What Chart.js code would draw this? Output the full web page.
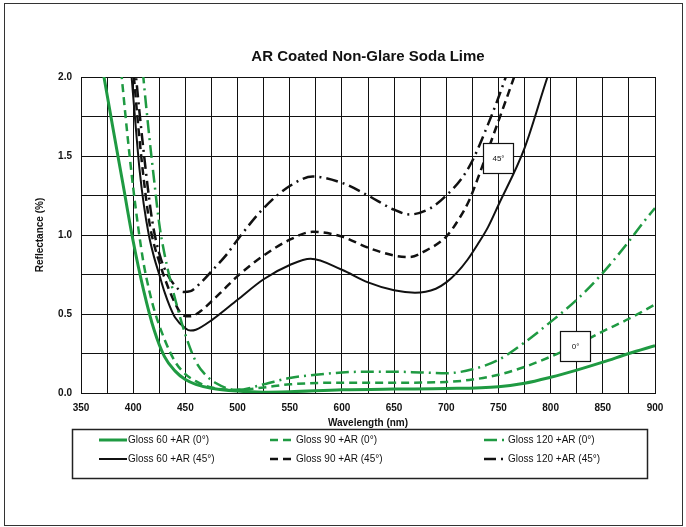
<!DOCTYPE html>
<html>
<head>
<meta charset="utf-8">
<script src="https://cdn.jsdelivr.net/npm/chart.js@4.4.1/dist/chart.umd.min.js"></script>
<style>
  html, body { margin: 0; padding: 0; background: #fff; }
  #wrap { position: relative; width: 686px; height: 527px; }
</style>
</head>
<body>
<div id="wrap"><canvas id="chart" width="686" height="527"></canvas></div>
<script>
const chartTitle = 'AR Coated Non-Glare Soda Lime';
const xTitle = 'Wavelength (nm)';
const yTitle = 'Reflectance (%)';

// Gloss 60 +AR (0°)
const g60_0_nm = [368, 372, 380, 390, 400, 410, 420, 430, 440, 450, 460, 475, 500, 525, 550, 600, 650, 700, 750, 775, 800, 825, 850, 875, 900];
const g60_0_r  = [2.15, 2.0, 1.7, 1.33, 0.96, 0.65, 0.4, 0.23, 0.14, 0.085, 0.055, 0.03, 0.012, 0.005, 0.008, 0.02, 0.025, 0.028, 0.04, 0.062, 0.1, 0.145, 0.195, 0.25, 0.3];
// Gloss 90 +AR (0°)
const g90_0_nm = [386, 389, 395, 400, 405, 410, 415, 420, 430, 440, 450, 460, 475, 500, 525, 550, 600, 650, 700, 725, 750, 775, 800, 825, 850, 875, 900];
const g90_0_r  = [2.2, 2.0, 1.6, 1.3, 1.04, 0.82, 0.66, 0.53, 0.34, 0.2, 0.12, 0.075, 0.035, 0.02, 0.035, 0.055, 0.065, 0.065, 0.07, 0.085, 0.115, 0.165, 0.23, 0.305, 0.39, 0.47, 0.56];
// Gloss 120 +AR (0°)
const g120_0_nm = [407, 410, 415, 420, 425, 430, 440, 450, 460, 470, 480, 490, 500, 525, 550, 575, 600, 625, 650, 675, 700, 725, 750, 775, 800, 825, 850, 875, 890, 900];
const g120_0_r  = [2.2, 1.98, 1.65, 1.35, 1.07, 0.88, 0.6, 0.37, 0.2, 0.11, 0.06, 0.03, 0.02, 0.055, 0.095, 0.115, 0.13, 0.135, 0.135, 0.13, 0.125, 0.15, 0.21, 0.32, 0.45, 0.59, 0.76, 0.96, 1.09, 1.17];
// Gloss 60 +AR (45°)
const g60_45_nm = [396, 398.5, 402, 406, 410, 415, 420, 425, 430, 435, 440, 450, 455, 460, 475, 500, 525, 550, 570, 600, 625, 650, 670, 690, 700, 710, 720, 730, 740, 750, 775, 797, 805];
const g60_45_r  = [2.2, 2.0, 1.72, 1.42, 1.2, 1.0, 0.86, 0.75, 0.64, 0.55, 0.48, 0.41, 0.395, 0.4, 0.46, 0.59, 0.72, 0.81, 0.85, 0.78, 0.7, 0.65, 0.635, 0.66, 0.7, 0.76, 0.84, 0.94, 1.05, 1.19, 1.55, 2.0, 2.15];
// Gloss 90 +AR (45°)
const g90_45_nm = [397, 400, 404, 408, 412, 416, 420, 425, 430, 440, 448, 455, 465, 475, 483, 500, 525, 550, 572, 600, 625, 650, 665, 680, 700, 712, 722, 732, 745, 757, 765, 770];
const g90_45_r  = [2.25, 2.05, 1.75, 1.48, 1.25, 1.06, 0.94, 0.83, 0.73, 0.57, 0.49, 0.485, 0.52, 0.58, 0.63, 0.74, 0.87, 0.97, 1.02, 0.99, 0.92, 0.87, 0.86, 0.9, 0.99, 1.1, 1.22, 1.39, 1.63, 1.85, 2.0, 2.1];
// Gloss 120 +AR (45°)
const g120_45_nm = [399, 402, 406, 410, 414, 418, 422, 427, 432, 440, 448, 455, 465, 475, 490, 500, 525, 550, 572, 600, 625, 650, 665, 685, 700, 715, 725, 740, 750, 757, 762];
const g120_45_r  = [2.25, 2.05, 1.78, 1.53, 1.3, 1.1, 0.96, 0.84, 0.76, 0.68, 0.64, 0.645, 0.7, 0.77, 0.88, 0.97, 1.17, 1.31, 1.37, 1.33, 1.25, 1.16, 1.13, 1.17, 1.25, 1.36, 1.47, 1.7, 1.87, 2.0, 2.1];

const seriesNames = ['Gloss 60 +AR (0°)', 'Gloss 90 +AR (0°)', 'Gloss 120 +AR (0°)',
                     'Gloss 60 +AR (45°)', 'Gloss 90 +AR (45°)', 'Gloss 120 +AR (45°)'];

const GREEN = '#1f9a42';
const BLACK = '#111111';
const FONT = '"Liberation Sans", Arial, sans-serif';

function pts(nm, r) { return nm.map((v, i) => ({ x: v, y: r[i] })); }

const styles = [
  { color: GREEN, width: 3,   dash: [] },
  { color: GREEN, width: 2.5, dash: [8, 5] },
  { color: GREEN, width: 2.5, dash: [13, 5, 2, 5] },
  { color: BLACK, width: 2,   dash: [] },
  { color: BLACK, width: 2.5, dash: [8, 5] },
  { color: BLACK, width: 2.5, dash: [12, 5, 2, 5] }
];
const seriesData = [
  pts(g60_0_nm, g60_0_r), pts(g90_0_nm, g90_0_r), pts(g120_0_nm, g120_0_r),
  pts(g60_45_nm, g60_45_r), pts(g90_45_nm, g90_45_r), pts(g120_45_nm, g120_45_r)
];

const datasets = seriesData.map((d, i) => ({
  label: seriesNames[i],
  data: d,
  borderColor: styles[i].color,
  borderWidth: styles[i].width,
  borderDash: styles[i].dash,
  pointRadius: 0,
  fill: false,
  cubicInterpolationMode: 'monotone'
}));

// angle labels inside the plot (data coordinates)
const angleNotes = [
  { text: '45°', nm: [735, 764], r: [1.58, 1.39] },
  { text: '0°',  nm: [809, 838], r: [0.39, 0.2] }
];

const extras = {
  id: 'extras',
  afterDraw(chart) {
    const ctx = chart.ctx;
    const a = chart.chartArea;
    const xs = chart.scales.x, ys = chart.scales.y;
    ctx.save();

    // outer frame
    ctx.strokeStyle = '#333';
    ctx.lineWidth = 1;
    ctx.setLineDash([]);
    ctx.strokeRect(4.5, 3.5, 678, 522);

    // title, centred over the plot
    ctx.fillStyle = '#111';
    ctx.font = 'bold 15px ' + FONT;
    ctx.textAlign = 'center';
    ctx.textBaseline = 'middle';
    ctx.fillText(chartTitle, (a.left + a.right) / 2, 57);

    // angle boxes
    angleNotes.forEach(n => {
      const x1 = Math.round(xs.getPixelForValue(n.nm[0])) + 0.5;
      const x2 = Math.round(xs.getPixelForValue(n.nm[1])) + 0.5;
      const y1 = Math.round(ys.getPixelForValue(n.r[0])) + 0.5;
      const y2 = Math.round(ys.getPixelForValue(n.r[1])) + 0.5;
      ctx.fillStyle = '#fff';
      ctx.fillRect(x1, y1, x2 - x1, y2 - y1);
      ctx.strokeStyle = '#111';
      ctx.lineWidth = 1.2;
      ctx.strokeRect(x1, y1, x2 - x1, y2 - y1);
      ctx.fillStyle = '#111';
      ctx.font = '8px ' + FONT;
      ctx.fillText(n.text, (x1 + x2) / 2, (y1 + y2) / 2);
    });

    // legend box
    ctx.strokeStyle = '#222';
    ctx.lineWidth = 1.5;
    ctx.strokeRect(72.5, 429.5, 575, 49);
    const colSwatch = [99, 270, 484];
    const colLen = [28, 22, 21];
    const colText = [128, 296, 508];
    const rowY = [440, 459];
    ctx.font = '10px ' + FONT;
    ctx.textAlign = 'left';
    for (let i = 0; i < 6; i++) {
      const c = i % 3, r = Math.floor(i / 3);
      const s = styles[i];
      ctx.strokeStyle = s.color;
      ctx.lineWidth = s.width;
      ctx.setLineDash(s.dash);
      ctx.beginPath();
      ctx.moveTo(colSwatch[c], rowY[r]);
      ctx.lineTo(colSwatch[c] + colLen[c], rowY[r]);
      ctx.stroke();
      ctx.setLineDash([]);
      ctx.fillStyle = '#111';
      ctx.fillText(seriesNames[i], colText[c], rowY[r]);
    }
    ctx.restore();
  }
};

new Chart(document.getElementById('chart'), {
  type: 'line',
  data: { datasets: datasets },
  plugins: [extras],
  options: {
    responsive: false,
    animation: false,
    devicePixelRatio: 1,
    layout: { padding: { left: 20, top: 77, right: 31, bottom: 98 } },
    plugins: { legend: { display: false }, title: { display: false }, tooltip: { enabled: false } },
    scales: {
      x: {
        type: 'linear',
        min: 350, max: 900,
        afterFit: s => { s.height = 36; },
        grid: { color: '#111', lineWidth: 1, drawTicks: false },
        border: { color: '#111', width: 1 },
        ticks: {
          stepSize: 25, autoSkip: false, maxRotation: 0, padding: 9,
          color: '#111', font: { family: FONT, size: 10, weight: 'bold' },
          callback: v => (v % 50 === 0 ? String(v) : '')
        },
        title: { display: true, text: xTitle, color: '#111', padding: 0,
                 font: { family: FONT, size: 10, weight: 'bold' } }
      },
      y: {
        min: 0, max: 2,
        afterFit: s => { s.width = 61; },
        grid: { color: '#111', lineWidth: 1, drawTicks: false },
        border: { color: '#111', width: 1 },
        ticks: {
          stepSize: 0.25, autoSkip: false, padding: 9,
          color: '#111', font: { family: FONT, size: 10, weight: 'bold' },
          callback: v => (Math.abs(v * 2 - Math.round(v * 2)) < 1e-6 ? v.toFixed(1) : '')
        },
        title: { display: true, text: yTitle, color: '#111', padding: { top: 14, bottom: 0 },
                 font: { family: FONT, size: 10, weight: 'bold' } }
      }
    }
  }
});
</script>
</body>
</html>
